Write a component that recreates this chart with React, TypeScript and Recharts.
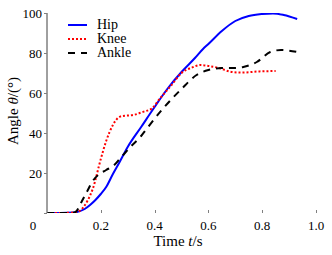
import React from "react";
import { LineChart, Line, XAxis, YAxis } from "recharts";

// ── Data: joint angles over time ────────────────────────────────

const hipTime = [0, 0.05, 0.1, 0.12, 0.14, 0.16, 0.18, 0.2, 0.22, 0.245, 0.27, 0.3, 0.35, 0.4, 0.45, 0.5, 0.55, 0.58, 0.6, 0.65, 0.7, 0.75, 0.8, 0.84, 0.88, 0.93];
const hipAngle = [0, 0, 0.2, 0.8, 2, 4, 6.5, 9.5, 13, 19.5, 25.5, 33, 43, 53, 62.5, 70.5, 77.5, 82, 84.5, 91, 96, 98.5, 99.5, 99.8, 99, 97];

const kneeTime = [0, 0.05, 0.1, 0.12, 0.15, 0.17, 0.2, 0.22, 0.245, 0.26, 0.28, 0.32, 0.36, 0.39, 0.42, 0.46, 0.5, 0.54, 0.57, 0.6, 0.64, 0.68, 0.72, 0.79, 0.85];
const kneeAngle = [0, 0, 0.3, 1, 6, 12, 27, 36, 44, 47, 48.5, 49, 50.7, 52.3, 57.3, 63.5, 70, 72.8, 74, 73.5, 72.5, 70.7, 70.2, 70.8, 71];

const ankleTime = [0, 0.05, 0.1, 0.11, 0.13, 0.15, 0.17, 0.19, 0.22, 0.25, 0.27, 0.31, 0.35, 0.37, 0.43, 0.5, 0.556, 0.6, 0.65, 0.7, 0.73, 0.78, 0.83, 0.87, 0.93];
const ankleAngle = [0, 0, 0.2, 1, 6, 11, 16, 19, 21.5, 24, 27, 33, 38.5, 42, 52, 62, 69, 71.5, 72.5, 72.5, 73, 75.5, 80.5, 81.5, 80.5];

const xTicks = [0, 0.2, 0.4, 0.6, 0.8, 1.0];
const yTicks = [0, 20, 40, 60, 80, 100];

const toRows = (ts: number[], vs: number[]) => ts.map((t, i) => ({ t, v: vs[i] }));

const series = [
  { name: "Hip", data: toRows(hipTime, hipAngle), color: "#0000ff", dash: undefined, width: 2 },
  { name: "Knee", data: toRows(kneeTime, kneeAngle), color: "#ff0000", dash: "2 2", width: 2 },
  { name: "Ankle", data: toRows(ankleTime, ankleAngle), color: "#000000", dash: "7 6", width: 2 },
];

// the y axis spine runs along t = 0 from the bottom to the top of the domain
const spineRows = [{ t: 0, v: 0 }, { t: 0, v: 100 }];

const FONT = "'Liberation Serif', 'Times New Roman', serif";
const AXIS = "#808080";

// ── Ticks & titles ──────────────────────────────────────────────

// x ticks point inward (up); the origin "0" sits left of the axis
function XTick({ x, y, payload }: any) {
  const v = payload.value as number;
  return (
    <g>
      {v !== 0 && <rect x={Math.round(x)} y={y - 3} width={1} height={3} fill={AXIS} stroke="none" />}
      <text
        x={v === 0 ? x - 14 : x}
        y={y + 17}
        textAnchor="middle"
        fontFamily={FONT}
        fontSize={13}
        fill="#000"
      >
        {v === 0 ? "0" : v.toFixed(1)}
      </text>
    </g>
  );
}

// label x sits 5px left of the axis (3px tick + 2px margin)
function YTick({ x, y, payload }: any) {
  return (
    <g>
      <rect x={x + 2} y={Math.round(y)} width={3} height={1} fill={AXIS} stroke="none" />
      {payload.value !== 0 && (
        <text x={x} y={y} dy={4.5} textAnchor="end" fontFamily={FONT} fontSize={13} fill="#000">
          {payload.value}
        </text>
      )}
    </g>
  );
}

function XTitle() {
  return (
    <text x={178} y={246} textAnchor="middle" fontFamily={FONT} fontSize={15} fill="#000">
      Time <tspan fontStyle="italic">t</tspan>/s
    </text>
  );
}

function YTitle() {
  return (
    <text
      x={13}
      y={111}
      transform="rotate(-90 13 111)"
      textAnchor="middle"
      dominantBaseline="central"
      fontFamily={FONT}
      fontSize={15}
      fill="#000"
    >
      Angle <tspan fontStyle="italic">θ</tspan>/(°)
    </text>
  );
}

// ── Legend (overlay, so it takes no room from the plot) ─────────

function JointLegend() {
  return (
    <div
      style={{
        position: "absolute",
        left: 67,
        top: 18,
        fontFamily: FONT,
        fontSize: 14,
        color: "#000",
      }}
    >
      {series.map((s) => (
        <div key={s.name} style={{ display: "flex", alignItems: "center", height: 14 }}>
          <svg width={20} height={14}>
            <line x1={1} x2={20} y1={7} y2={7} stroke={s.color} strokeWidth={s.width} strokeDasharray={s.dash} />
          </svg>
          <span style={{ marginLeft: 10, lineHeight: "14px" }}>{s.name}</span>
        </div>
      ))}
    </div>
  );
}

export default function App() {
  return (
    <div style={{ position: "absolute", left: 0, top: 0, width: 332, height: 255, background: "#fff" }}>
      <LineChart width={332} height={255} margin={{ top: 13, right: 16, bottom: 0, left: 0 }}>
        <XAxis
          type="number"
          dataKey="t"
          domain={[0, 1]}
          ticks={xTicks}
          height={42}
          axisLine={false}
          tickLine={false}
          tickSize={0}
          tickMargin={0}
          tick={<XTick />}
          label={<XTitle />}
          allowDuplicatedCategory={false}
        />
        <YAxis
          type="number"
          domain={[0, 100]}
          ticks={yTicks}
          width={47}
          axisLine={{ stroke: AXIS, strokeWidth: 1 }}
          tickLine={false}
          tickSize={3}
          tickMargin={2}
          tick={<YTick />}
          label={<YTitle />}
          allowDataOverflow
        />
        <Line
          data={spineRows}
          dataKey="v"
          type="linear"
          stroke={AXIS}
          strokeWidth={1}
          dot={false}
          activeDot={false}
          legendType="none"
          isAnimationActive={false}
        />
        {series.map((s) => (
          <Line
            key={s.name}
            data={s.data}
            dataKey="v"
            name={s.name}
            type="monotone"
            stroke={s.color}
            strokeWidth={s.width}
            strokeDasharray={s.dash}
            dot={false}
            activeDot={false}
            isAnimationActive={false}
          />
        ))}
      </LineChart>
      <JointLegend />
    </div>
  );
}
